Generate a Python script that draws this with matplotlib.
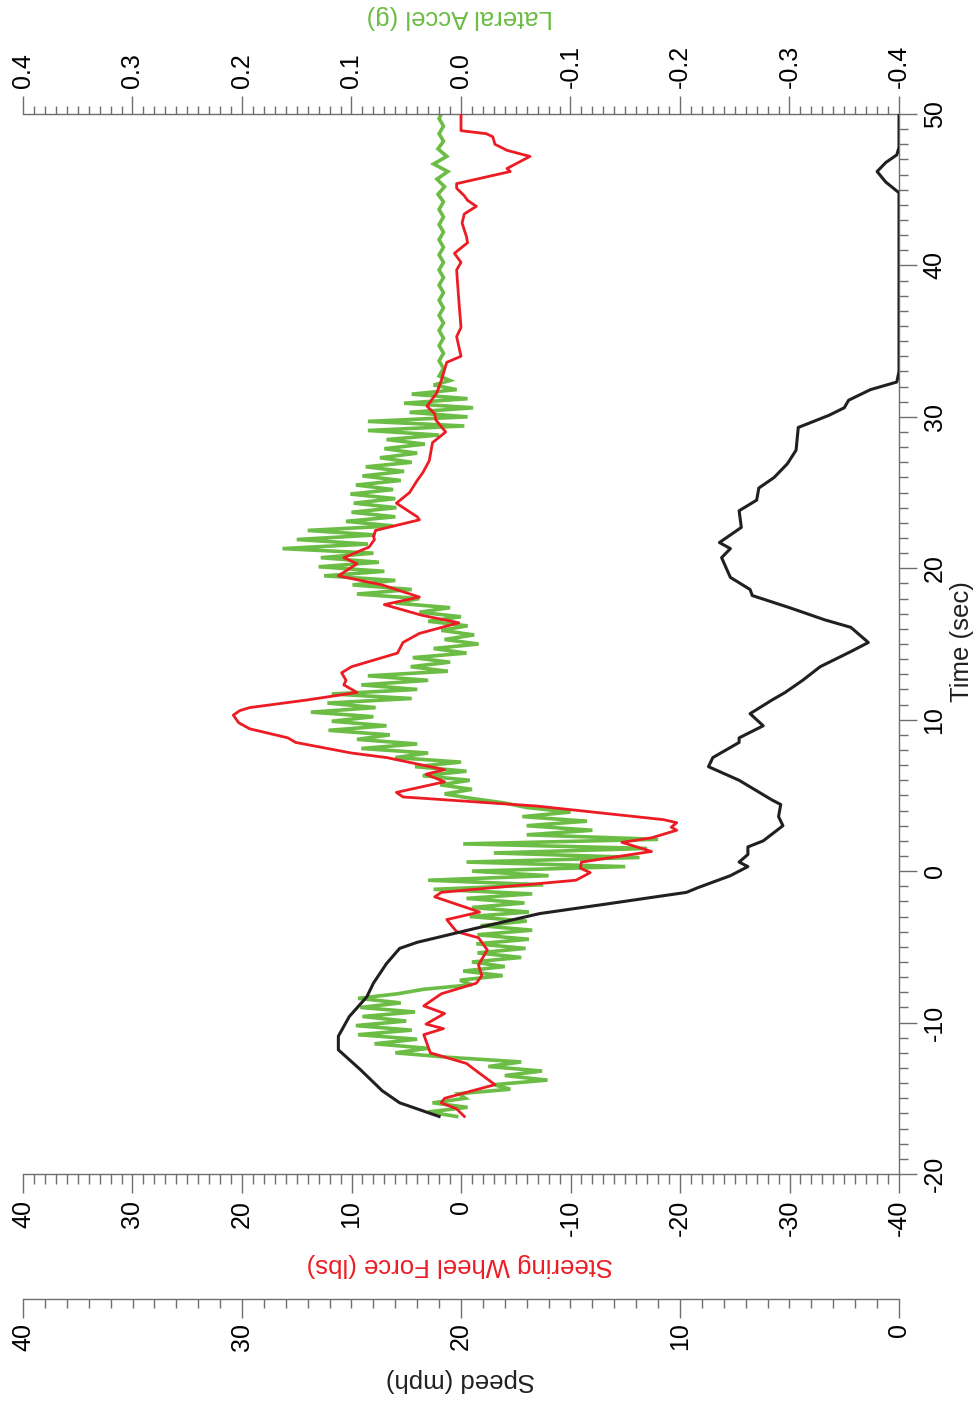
import matplotlib
matplotlib.use('Agg')
import matplotlib.pyplot as plt
from matplotlib.ticker import MultipleLocator

plt.rcParams['font.family'] = ['Liberation Sans', 'DejaVu Sans']
plt.rcParams['axes.unicode_minus'] = False

# --- data ---
# speed (mph) vs time (sec)
speed_t = [-16.2, -15.3, -14.5, -13.1, -11.8, -10.9, -9.6, -8.3, -7.4, -6.1, -5.1, -4.7,
           -3.8, -2.8, -2.2, -1.4, -1.1, -0.3, 0.3, 0.6, 1.1, 1.6, 2.0, 3.0, 3.6, 4.4, 4.7,
           6.0, 6.9, 7.5, 8.5, 8.8, 9.6, 10.4, 11.3, 11.8, 12.6, 13.5, 14.5, 15.1, 16.1,
           16.6, 17.4, 18.2, 18.6, 19.4, 20.7, 21.3, 21.7, 22.7, 23.8, 24.5, 25.3, 26.0,
           26.9, 27.8, 29.3, 30.1, 30.6, 31.1, 31.8, 32.3, 33.0, 44.8, 45.5, 46.2, 46.8,
           47.3, 47.8, 50.0]
speed_mph = [21.0, 22.8, 23.6, 24.6, 25.6, 25.6, 25.1, 24.3, 24.0, 23.4, 22.8, 22.0,
             19.4, 16.4, 13.5, 9.7, 9.2, 7.7, 6.9, 7.3, 6.9, 6.9, 6.2, 5.3, 5.5, 5.4, 5.8,
             7.3, 8.7, 8.5, 7.3, 7.3, 6.2, 6.8, 5.8, 5.2, 4.4, 3.6, 2.2, 1.4, 2.2,
             3.4, 5.0, 6.7, 6.8, 7.7, 8.1, 7.7, 8.2, 7.2, 7.3, 6.5, 6.4, 5.7,
             5.1, 4.7, 4.6, 3.2, 2.5, 2.3, 1.3, 0.1, 0.0, 0.0, 0.6, 1.0, 0.6,
             0.1, 0.0, 0.0]

# steering wheel force (lbs) vs time (sec)
steer_t = [-16.2, -15.7, -15.3, -15.0, -14.1, -13.3, -12.7, -12.0, -10.8, -10.4, -10.1,
           -9.4, -8.9, -8.1, -7.4, -6.9, -6.2, -5.2, -4.4, -4.0, -3.2, -2.7, -1.7, -1.4,
           -0.6, -0.1, 0.2, 0.6, 1.3, 1.9, 2.2, 2.7, 2.9, 3.2, 3.4, 4.3, 4.9, 5.2, 5.9,
           6.4, 6.7, 7.5, 7.8, 8.5, 8.8, 9.4, 9.8, 10.3, 10.6, 10.8, 11.3, 11.8, 12.3,
           12.6, 13.1, 13.5, 14.4, 15.1, 15.7, 16.4, 16.9, 17.6, 18.1, 18.9, 19.5, 20.3,
           20.7, 21.4, 21.9, 22.1, 22.5, 23.2, 23.4, 24.3, 25.0, 25.8, 26.3, 27.1, 28.3,
           29.0, 29.8, 30.2, 30.7, 31.6, 32.4, 33.6, 34.0, 35.3, 35.9, 37.7, 39.7, 40.2,
           40.8, 41.5, 41.9, 42.8, 43.4, 43.9, 44.3, 44.6, 45.1, 45.4, 46.2, 46.4, 47.2,
           47.6, 48.0, 48.5, 48.7, 48.9, 50.0]
steer_lbs = [-0.3, 0.4, 1.8, 1.5, -3.1, -1.6, -0.5, 2.8, 3.4, 1.6, 3.2,
             1.5, 3.4, 1.8, -1.4, -1.9, -1.6, -2.4, -1.6, 0.4, 1.3, -1.7, 2.4, 1.8,
             -10.5, -11.8, -10.9, -11.0, -17.4, -14.7, -17.4, -19.7, -19.2, -19.7, -18.5, -6.9, 5.3, 5.9, 1.5,
             3.2, 1.5, 6.8, 10.0, 15.1, 15.8, 19.3, 20.3, 20.8, 20.2, 19.3, 14.1, 9.5, 10.7,
             10.5, 10.9, 10.0, 5.8, 5.3, 3.8, 0.2, 3.6, 7.0, 3.8, 7.2, 11.2, 9.5,
             10.7, 8.4, 7.9, 8.0, 7.8, 3.8, 4.0, 5.9, 4.7, 4.0, 3.5, 2.9, 2.6,
             1.4, 2.3, 2.4, 3.1, 2.2, 1.8, 1.3, 0.0, 0.4, 0.0, 0.2, 0.4, 0.0,
             0.6, -0.6, -0.5, -0.1, -0.3, -1.4, -0.6, -0.3, 0.4, 0.4, -4.5, -4.2, -6.3,
             -4.2, -3.1, -2.9, -2.3, 0.0, 0.0]

# lateral acceleration (g) vs time (sec), noisy trace
lat_t = [-16.2, -15.9, -15.6, -15.3, -15.0, -14.7, -14.4, -14.1, -13.8, -13.5,
         -13.2, -12.9, -12.6, -12.3, -12.0, -11.7, -11.4, -11.1, -10.8, -10.5,
         -10.2, -9.9, -9.6, -9.3, -9.0, -8.7, -8.4, -8.1, -7.8, -7.5,
         -7.2, -6.9, -6.6, -6.3, -6.0, -5.7, -5.4, -5.1, -4.8, -4.5,
         -4.2, -3.9, -3.6, -3.3, -3.0, -2.7, -2.4, -2.1, -1.8, -1.5,
         -1.2, -0.9, -0.6, -0.3, 0.0, 0.3, 0.6, 0.9, 1.2, 1.5,
         1.8, 2.1, 2.4, 2.7, 3.0, 3.3, 3.6, 3.9, 4.2, 4.5,
         4.8, 5.1, 5.4, 5.7, 6.0, 6.3, 6.6, 6.9, 7.2, 7.5,
         7.8, 8.1, 8.4, 8.7, 9.0, 9.3, 9.6, 9.9, 10.2, 10.5,
         10.8, 11.1, 11.4, 11.7, 12.0, 12.3, 12.6, 12.9, 13.2, 13.5,
         13.8, 14.1, 14.4, 14.7, 15.0, 15.3, 15.6, 15.9, 16.2, 16.5,
         16.8, 17.1, 17.4, 17.7, 18.0, 18.3, 18.6, 18.9, 19.2, 19.5,
         19.8, 20.1, 20.4, 20.7, 21.0, 21.3, 21.6, 21.9, 22.2, 22.5,
         22.8, 23.1, 23.4, 23.7, 24.0, 24.3, 24.6, 24.9, 25.2, 25.5,
         25.8, 26.1, 26.4, 26.7, 27.0, 27.3, 27.6, 27.9, 28.2, 28.5,
         28.8, 29.1, 29.4, 29.7, 30.0, 30.3, 30.6, 30.9, 31.2, 31.5,
         31.8, 32.1, 32.4, 32.7, 33.2, 33.7, 34.2, 34.7, 35.2, 35.7,
         36.2, 36.7, 37.2, 37.7, 38.2, 38.7, 39.2, 39.7, 40.2, 40.7,
         41.2, 41.7, 42.2, 42.7, 43.2, 43.7, 44.2, 44.7, 45.2, 45.7,
         46.2, 46.7, 47.2, 47.7, 48.2, 48.7, 49.2, 49.7, 50.0]
lat_g = [0.004, 0.030, -0.006, 0.026, -0.004, 0.002, -0.045, -0.030, -0.079, -0.040,
         -0.074, -0.025, -0.055, 0.010, 0.060, 0.030, 0.079, 0.040, 0.094, 0.045,
         0.096, 0.050, 0.090, 0.042, 0.092, 0.055, 0.094, 0.058, 0.034, -0.010,
         0.001, -0.038, -0.002, -0.040, -0.010, -0.055, -0.015, -0.059, -0.014, -0.062,
         -0.015, -0.065, -0.018, -0.060, -0.008, -0.062, -0.010, -0.058, -0.005, -0.065,
         0.025, -0.075, 0.030, -0.080, -0.010, -0.150, -0.005, -0.163, -0.030, -0.170,
         -0.002, -0.180, -0.060, -0.120, -0.060, -0.115, -0.056, -0.100, -0.060, -0.040,
         -0.010, 0.015, -0.010, 0.019, -0.008, 0.035, -0.005, 0.042, 0.000, 0.060,
         0.030, 0.091, 0.040, 0.095, 0.065, 0.121, 0.068, 0.118, 0.080, 0.137,
         0.078, 0.122, 0.045, 0.118, 0.040, 0.091, 0.030, 0.085, 0.012, 0.046,
         0.010, 0.044, -0.005, 0.025, -0.016, 0.015, -0.012, 0.018, -0.006, 0.030,
         0.000, 0.038, 0.010, 0.060, 0.038, 0.095, 0.045, 0.099, 0.060, 0.125,
         0.070, 0.130, 0.075, 0.128, 0.080, 0.163, 0.085, 0.150, 0.078, 0.140,
         0.062, 0.105, 0.060, 0.100, 0.059, 0.098, 0.060, 0.101, 0.062, 0.096,
         0.055, 0.090, 0.052, 0.087, 0.045, 0.074, 0.040, 0.070, 0.033, 0.068,
         0.020, 0.085, -0.003, 0.085, -0.006, 0.047, -0.011, 0.052, -0.006, 0.045,
         0.004, 0.025, 0.010, 0.020, 0.016, 0.020, 0.016, 0.020, 0.016, 0.020,
         0.016, 0.020, 0.016, 0.020, 0.016, 0.020, 0.016, 0.020, 0.016, 0.020,
         0.016, 0.020, 0.016, 0.020, 0.016, 0.020, 0.016, 0.021, 0.015, 0.022,
         0.012, 0.025, 0.013, 0.021, 0.016, 0.020, 0.016, 0.020, 0.018]

# axis ticks
time_ticks = [-20, -10, 0, 10, 20, 30, 40, 50]
steer_ticks = [40, 30, 20, 10, 0, -10, -20, -30, -40]
lat_ticks = [0.4, 0.3, 0.2, 0.1, 0.0, -0.1, -0.2, -0.3, -0.4]
lat_labels = ['0.4', '0.3', '0.2', '0.1', '0.0', '-0.1', '-0.2', '-0.3', '-0.4']
speed_ticks = [40, 30, 20, 10, 0]

GREEN = '#6cbd45'
RED = '#ed1c24'
BLACK = '#231f20'
AXC = '#6d6e71'
FS = 18

fig = plt.figure(figsize=(9.8, 14.05), dpi=100)
ax = fig.add_axes([23 / 980, 1 - 1174 / 1405, 876 / 980, 1060 / 1405])
ax_lat = ax.twiny()
ax_spd = ax.twiny()

ax_lat.set_zorder(1)
ax.set_zorder(2)
ax_spd.set_zorder(3)
for a in (ax, ax_lat, ax_spd):
    a.patch.set_visible(False)
    for s in a.spines.values():
        s.set_visible(False)
        s.set_color(AXC)
        s.set_linewidth(1.0)

ax_lat.plot(lat_g, lat_t, color=GREEN, lw=2.6, solid_joinstyle='miter')
ax.plot(steer_lbs, steer_t, color=RED, lw=2.0)
ax_spd.plot(speed_mph, speed_t, color=BLACK, lw=2.2)

ax.set_xlim(40, -40)
ax.set_ylim(-20, 50)
ax_lat.set_xlim(0.4, -0.4)
ax_spd.set_xlim(40, 0)

# steering axis (bottom)
ax.spines['bottom'].set_visible(True)
ax.xaxis.set_ticks_position('bottom')
ax.set_xticks(steer_ticks)
ax.set_xticklabels([str(v) for v in steer_ticks], rotation=90)
ax.xaxis.set_minor_locator(MultipleLocator(1))
ax.tick_params(axis='x', which='major', direction='out', length=13.5, width=1,
               color=AXC, pad=5, labelsize=FS)
ax.tick_params(axis='x', which='minor', direction='out', length=7.5, width=1, color=AXC)

# time axis (right)
ax.spines['right'].set_visible(True)
ax.yaxis.tick_right()
ax.set_yticks(time_ticks)
ax.set_yticklabels([str(v) for v in time_ticks], rotation=90, va='center')
ax.yaxis.set_minor_locator(MultipleLocator(1))
ax.tick_params(axis='y', which='major', direction='out', length=13, width=1,
               color=AXC, pad=4, labelsize=FS)
ax.tick_params(axis='y', which='minor', direction='out', length=6.5, width=1, color=AXC)

# lateral accel axis (top)
ax_lat.spines['top'].set_visible(True)
ax_lat.xaxis.set_ticks_position('top')
ax_lat.set_xticks(lat_ticks)
ax_lat.set_xticklabels(lat_labels, rotation=90)
ax_lat.xaxis.set_minor_locator(MultipleLocator(0.01))
ax_lat.tick_params(axis='x', which='major', direction='out', length=13, width=1,
                   color=AXC, pad=6, labelsize=FS)
ax_lat.tick_params(axis='x', which='minor', direction='out', length=5.5, width=1, color=AXC)

# speed axis (separate, lower)
ax_spd.spines['bottom'].set_visible(True)
ax_spd.spines['bottom'].set_position(('outward', 90))
ax_spd.xaxis.set_ticks_position('bottom')
ax_spd.set_xticks(speed_ticks)
ax_spd.set_xticklabels([str(v) for v in speed_ticks], rotation=90)
ax_spd.xaxis.set_minor_locator(MultipleLocator(1))
ax_spd.tick_params(axis='x', which='major', direction='out', length=13.5, width=1,
                   color=AXC, pad=3.5, labelsize=FS)
ax_spd.tick_params(axis='x', which='minor', direction='out', length=6.5, width=1, color=AXC)

# axis titles
fig.text(460 / 980, 1 - 17 / 1405, 'Lateral Accel (g)', color=GREEN, fontsize=18.5,
         rotation=180, ha='center', va='center')
fig.text(460 / 980, 1 - 1265 / 1405, 'Steering Wheel Force (lbs)', color=RED, fontsize=18.5,
         rotation=180, ha='center', va='center')
fig.text(460 / 980, 1 - 1380 / 1405, 'Speed (mph)', color=BLACK, fontsize=18.5,
         rotation=180, ha='center', va='center')
fig.text(962 / 980, 1 - 642 / 1405, 'Time (sec)', color=BLACK, fontsize=18.5,
         rotation=90, ha='center', va='center')

fig.savefig('out.png', dpi=100)
